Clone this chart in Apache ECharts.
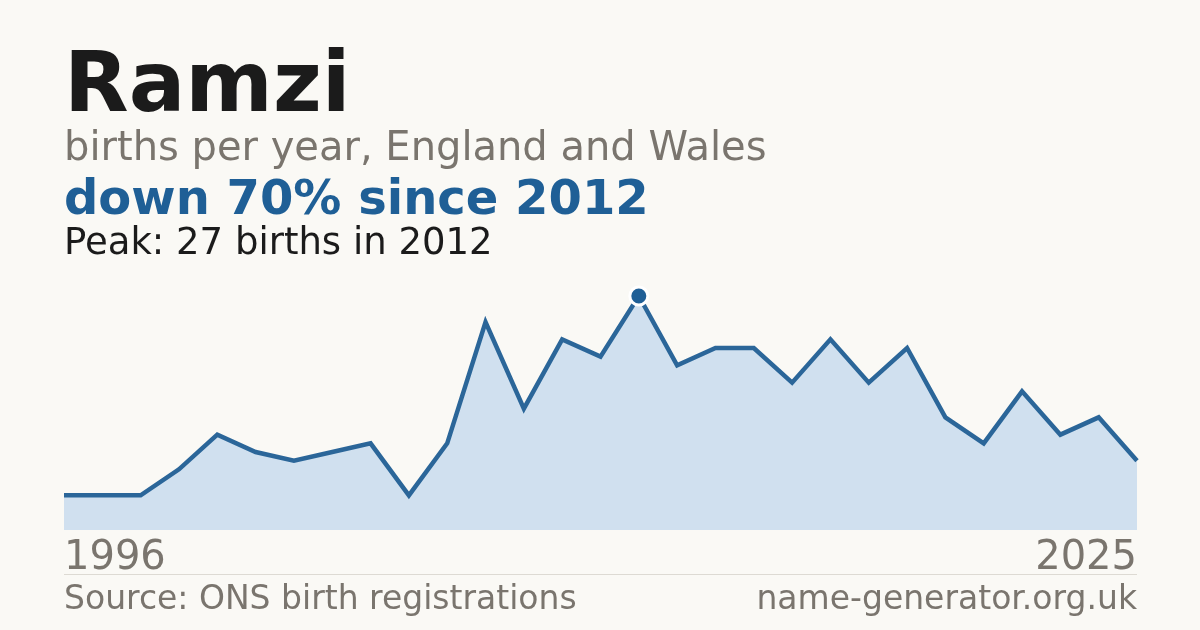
<!DOCTYPE html>
<html>
<head>
<meta charset="UTF-8">
<title>Ramzi - births per year</title>
<script src="https://cdn.jsdelivr.net/npm/echarts@6/dist/echarts.min.js"></script>
<style>
  html, body { margin: 0; padding: 0; background: #faf9f5; }
  #main { width: 1200px; height: 630px; }
</style>
</head>
<body>
<div id="main"></div>
<script type="text/javascript">
// one year has no published count, so 29 points over 1996-2025
var years = ['1996','1998','1999','2000','2001','2002','2003','2004','2005','2006',
             '2007','2008','2009','2010','2011','2012','2013','2014','2015','2016',
             '2017','2018','2019','2020','2021','2022','2023','2024','2025'];
var births = [4, 4, 4, 7, 11, 9, 8, 9, 10, 4,
              10, 24, 14, 22, 20, 27, 19, 21, 21, 17,
              22, 17, 21, 13, 10, 16, 11, 13, 8];

var titleText = 'Ramzi';
var subText = 'births per year, England and Wales';
var changeText = 'down 70% since 2012';
var peakText = 'Peak: 27 births in 2012';
var sourceText = 'Source: ONS birth registrations';
var siteText = 'name-generator.org.uk';

var font = '"DejaVu Sans", sans-serif';
var blue = '#1f5f96';
var grey = '#7a756e';

var myChart = echarts.init(document.getElementById('main'));

var option = {
    backgroundColor: '#faf9f5',
    animation: false,
    grid: { left: 64, right: 63, top: 296, bottom: 100 },
    xAxis: {
        type: 'category',
        boundaryGap: false,
        data: years,
        axisLine: { show: false },
        axisTick: { show: false },
        splitLine: { show: false },
        axisLabel: {
            interval: function (idx) { return idx === 0 || idx === years.length - 1; },
            color: grey,
            fontFamily: font,
            fontSize: 40,
            margin: 9,
            alignMinLabel: 'left',
            alignMaxLabel: 'right'
        }
    },
    yAxis: {
        type: 'value',
        min: 0,
        max: 'dataMax',
        show: false
    },
    series: [{
        type: 'line',
        data: births,
        showSymbol: false,
        lineStyle: { color: '#2b6699', width: 4.5, join: 'miter' },
        areaStyle: { color: '#d0e0ef', opacity: 1 },
        markPoint: {
            symbol: 'circle',
            symbolSize: 18,
            label: { show: false },
            itemStyle: { color: blue, borderColor: '#ffffff', borderWidth: 3 },
            data: [{ type: 'max' }]
        }
    }],
    graphic: [
        { type: 'text', left: 64, top: 47, style: { text: titleText, font: 'bold 84px ' + font, fill: '#1b1b1b' } },
        { type: 'text', left: 64, top: 130, style: { text: subText, font: '40px ' + font, fill: grey } },
        { type: 'text', left: 64, top: 178, style: { text: changeText, font: 'bold 48px ' + font, fill: blue } },
        { type: 'text', left: 64, top: 226, style: { text: peakText, font: '37px ' + font, fill: '#1b1b1b' } },
        { type: 'rect', shape: { x: 64, y: 574, width: 1073, height: 1 }, style: { fill: '#dddad3' } },
        { type: 'text', left: 64, top: 584, style: { text: sourceText, font: '33px ' + font, fill: grey } },
        { type: 'text', right: 63, top: 584, style: { text: siteText, font: '33px ' + font, fill: grey } }
    ]
};

myChart.setOption(option);
</script>
</body>
</html>
